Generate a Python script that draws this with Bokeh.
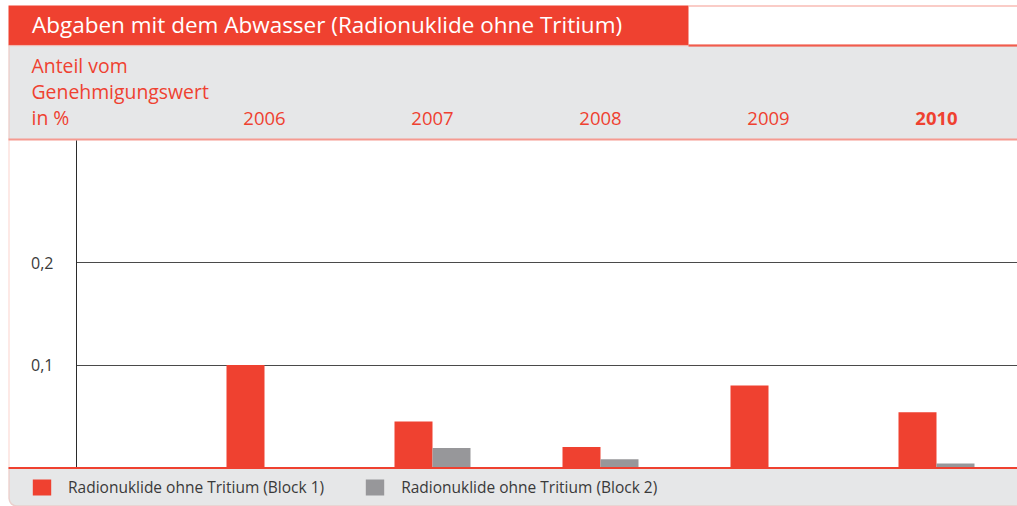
from bokeh.plotting import figure
from bokeh.models import (Range1d, ColumnDataSource, FixedTicker, Legend, LegendItem,
                          BoxAnnotation, Label, LabelSet, LinearAxis)
from bokeh.transform import dodge
from bokeh.core.properties import value
from bokeh.embed import file_html
from bokeh.resources import INLINE

# ---------------- data ----------------
title_text = "Abgaben mit dem Abwasser (Radionuklide ohne Tritium)"
y_title_lines = ["Anteil vom", "Genehmigungswert", "in %"]
years = ["2006", "2007", "2008", "2009", "2010"]
block1 = [0.100, 0.045, 0.020, 0.080, 0.054]
block2 = [0.000, 0.019, 0.008, 0.000, 0.004]
series = ["Radionuklide ohne Tritium (Block 1)", "Radionuklide ohne Tritium (Block 2)"]
y_ticks = [0.1, 0.2]
y_tick_labels = ["0,1", "0,2"]

# ---------------- style ----------------
RED = "#ef4130"
GREY_BAR = "#97979a"
BAND = "#e6e7e8"
SALMON = "#f59a90"
TEXT = "#3a3a3a"
FONT = "Open Sans"

W, H = 1017, 506
# chart area in pixels (axis at x=76, zero line at y=467, header ends at y=140)
CH_L, CH_R, CH_T, CH_B = 76, 1017, 140, 467
PX_PER_CAT = 168.0
PX_PER_UNIT = 1025.0
X0_PX = 264.0          # pixel position of the first category

xs = list(range(len(years)))
bw = 38 / PX_PER_CAT


def dx(px):
    return (px - X0_PX) / PX_PER_CAT


def dy(py):
    return (CH_B - py) / PX_PER_UNIT


p = figure(width=W, height=H, x_range=Range1d(dx(0), dx(W)), y_range=Range1d(dy(H), dy(0)),
           x_axis_location=None, y_axis_location=None,
           output_backend="svg", toolbar_location=None)
p.min_border = 0
p.min_border_left = 0
p.min_border_right = 0
p.min_border_top = 0
p.min_border_bottom = 0
try:
    p.title.visible = False
except Exception:
    pass
p.outline_line_color = None
p.background_fill_color = "white"
p.border_fill_color = "white"
p.xgrid.visible = False

# y axis drawn inside the frame at the chart's left edge
yax = LinearAxis(fixed_location=dx(CH_L), bounds=(0, dy(CH_T)),
                 ticker=FixedTicker(ticks=y_ticks),
                 major_label_overrides={t: l for t, l in zip(y_ticks, y_tick_labels)},
                 major_tick_line_color=None, minor_tick_line_color=None,
                 axis_line_color="#2b2b2b", axis_line_width=1,
                 major_label_standoff=17, major_label_text_font=FONT,
                 major_label_text_font_size="16px", major_label_text_color=TEXT,
                 major_label_text_baseline="alphabetic")
p.add_layout(yax, "left")

p.ygrid.ticker = FixedTicker(ticks=y_ticks)
p.ygrid.grid_line_color = "#4a4a4a"
p.ygrid.grid_line_width = 1.2
try:
    p.ygrid.cross_bounds = (dx(CH_L), dx(W))
except Exception:
    p.ygrid.visible = False
    p.segment(x0=[dx(CH_L)] * len(y_ticks), x1=[dx(W)] * len(y_ticks), y0=y_ticks, y1=y_ticks,
              line_color="#4a4a4a", line_width=1.2)


def box(l, r, t, b, color, level="underlay"):
    ba = BoxAnnotation(left=dx(l), right=dx(r), top=dy(t), bottom=dy(b),
                       fill_color=color, fill_alpha=1, line_color=None, level=level)
    p.add_layout(ba)
    return ba


# frame decorations
box(8, 688, 5, 45, RED)                       # title bar
box(688, 1040, 5, 6, SALMON)                  # thin top line on the right
box(8, 1040, 45, 139, BAND)                   # header band
box(688, 1040, 44, 46, RED)                   # line under white title area
box(8, 1040, 138, 140, SALMON)                # line under header
band = BoxAnnotation(left=dx(8), right=dx(1040), top=dy(468), bottom=dy(506),
                     fill_color=BAND, fill_alpha=1, line_color=None, level="underlay")
outline = BoxAnnotation(left=dx(8.5), right=dx(1100), top=dy(45), bottom=dy(505.5),
                        fill_alpha=0, line_color=SALMON, line_width=1.5, level="annotation")
try:
    band.border_radius = (0, 0, 0, 8)
    outline.border_radius = (0, 0, 0, 8)
except Exception:
    pass
p.add_layout(band)
p.add_layout(outline)
box(8, 1040, 466.5, 468.5, RED, level="annotation")  # base line

# title
p.add_layout(Label(x=dx(31.5), y=dy(23.5), text=title_text, text_font=FONT,
                   text_font_size="22.5px", text_color="white", text_baseline="alphabetic"))

# header texts
for line, base in zip(y_title_lines, [64.5, 90.5, 116.5]):
    p.add_layout(Label(x=dx(31), y=dy(base), text=line, text_font=FONT, text_font_size="19.4px",
                       text_color=RED, text_baseline="alphabetic"))

ysrc = ColumnDataSource(dict(x=xs, y=[dy(124)] * len(xs), t=years,
                             st=["normal"] * (len(years) - 1) + ["bold"]))
p.add_layout(LabelSet(x="x", y="y", text="t", source=ysrc, text_font=value(FONT),
                      text_font_size=value("18.5px"), text_font_style="st", text_color=value(RED),
                      text_align=value("center"), text_baseline=value("alphabetic")))

# bars
src = ColumnDataSource(dict(x=xs, b1=block1, b2=block2))
r1 = p.vbar(x=dodge("x", -bw / 2, range=p.x_range), top="b1", bottom=0, width=bw,
            source=src, fill_color=RED, line_color=None)
r2 = p.vbar(x=dodge("x", bw / 2, range=p.x_range), top="b2", bottom=0, width=bw,
            source=src, fill_color=GREY_BAR, line_color=None)

# legend in the bottom band
leg = Legend(items=[LegendItem(label=series[0], renderers=[r1]),
                    LegendItem(label=series[1], renderers=[r2])],
             orientation="horizontal", location=(30, H - 498), margin=0, padding=0,
             glyph_width=23, glyph_height=20, label_height=20, label_standoff=15,
             spacing=39, background_fill_alpha=0, border_line_color=None,
             label_text_font=FONT, label_text_font_size="15.5px", label_text_color=TEXT)
p.add_layout(leg)

open("out.html", "w").write(file_html(p, INLINE))
